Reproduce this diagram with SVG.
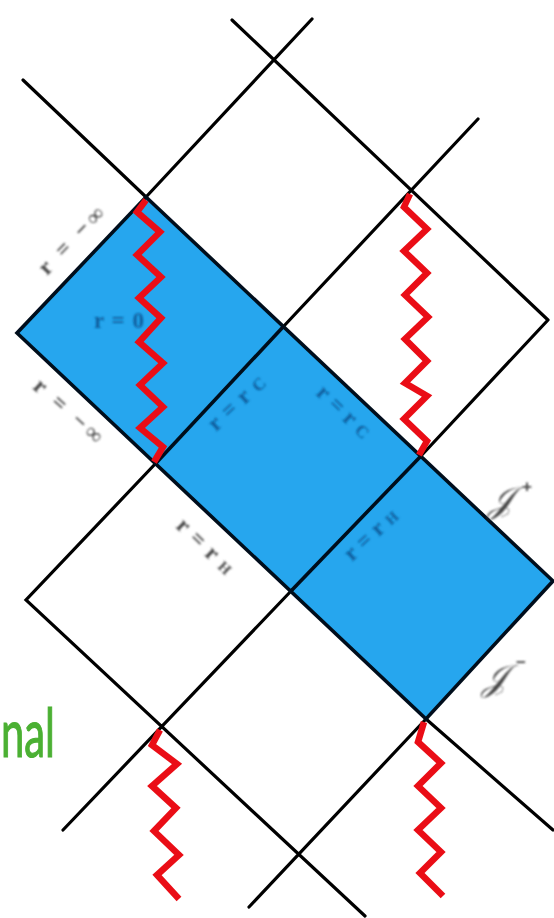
<svg xmlns="http://www.w3.org/2000/svg" width="554" height="918" viewBox="0 0 554 918">
<defs>
<style>
.bg{fill:#fff}
.ln{fill:none;stroke:#000;stroke-width:3.2;stroke-linecap:round}
.dk{fill:none;stroke:#00101c;stroke-width:3.6;stroke-linecap:round}
.zz{fill:none;stroke:#ea1016;stroke-width:6.5;stroke-linejoin:miter}
.lb{font-family:"Liberation Serif",serif;font-size:23px;font-weight:bold}
.d{fill:#0f5f9e}.g{fill:#444}
.sc{font-family:"DejaVu Serif","Liberation Serif",serif;font-style:italic;font-size:36px;fill:#444}
.sup{font-family:"Liberation Sans",sans-serif;font-style:normal;font-size:17px;font-weight:bold;fill:#444}
.gr{font-family:Lato,"Liberation Sans",sans-serif;font-size:68px;fill:#4bb033;stroke:#4bb033;stroke-width:1.2}
</style>
<filter id="soft" x="-5%" y="-5%" width="110%" height="110%"><feGaussianBlur stdDeviation="0.7"/></filter>
<filter id="softer" x="-20%" y="-20%" width="140%" height="140%"><feGaussianBlur stdDeviation="0.9"/></filter>
</defs>
<rect class="bg" width="554" height="918"/>
<g filter="url(#soft)">
<g id="region"><polygon points="17,333 146,197 554,581 426,719" fill="#25a6ee"/></g>
<g id="connectors">
<path class="ln" d="M23,80L146,197M146,197L312,19M232,20L548,320M283,327L478,119M420,457L548,320M157,462L26,600L365,916M292,590L63,830M426,719L249,907M426,719L553,830"/>
<path class="dk" d="M146,197L553,581L426,719L17,333ZM157,462L283,327M292,590L420,457"/>
</g>
<g id="singularities">
<path class="zz" d="M146,200L137,212L160,232L137,255L161,277L139,298L161,318L139,342L163,363L140,385L163,407L140,428L163,447L154,462"/>
<path class="zz" d="M410,194L404,207L427,229L404,251L427,273L405,295L428,317L405,339L427,361L405,383L427,396L404,419L427,441L419,455"/>
<path class="zz" d="M160,730L152,745L177,764L152,786L176,808L154,831L179,855L157,875L179,899"/>
<path class="zz" d="M424,722L418,742L441,763L418,786L441,808L418,830L441,852L420,873L443,896"/>
</g>
</g>
<g id="labels" filter="url(#softer)">
<text class="lb g" transform="translate(47,276) rotate(-46)" textLength="85">r = −∞</text>
<text class="lb g" transform="translate(32,388) rotate(42)" textLength="85">r = −∞</text>
<text class="lb d" x="94" y="328" textLength="50">r = 0</text>
<text class="lb d" transform="translate(216,432) rotate(-43)" textLength="70">r=r<tspan font-size="17">C</tspan></text>
<text class="lb d" transform="translate(315,394) rotate(44)" textLength="66">r=r<tspan font-size="17">C</tspan></text>
<text class="lb d" transform="translate(352,562) rotate(-43)" textLength="65">r=r<tspan font-size="15">H</tspan></text>
<text class="lb g" transform="translate(175,527) rotate(44)" textLength="70">r=r<tspan font-size="15">H</tspan></text>
<text class="sc" x="488" y="512">𝒥<tspan class="sup" x="522" y="492">+</tspan></text>
<text class="sc" x="482" y="690">𝒥<tspan class="sup" x="516" y="668">−</tspan></text>
</g>
<text id="fragment" class="gr" x="1" y="757" textLength="54" lengthAdjust="spacingAndGlyphs">nal</text>
</svg>
